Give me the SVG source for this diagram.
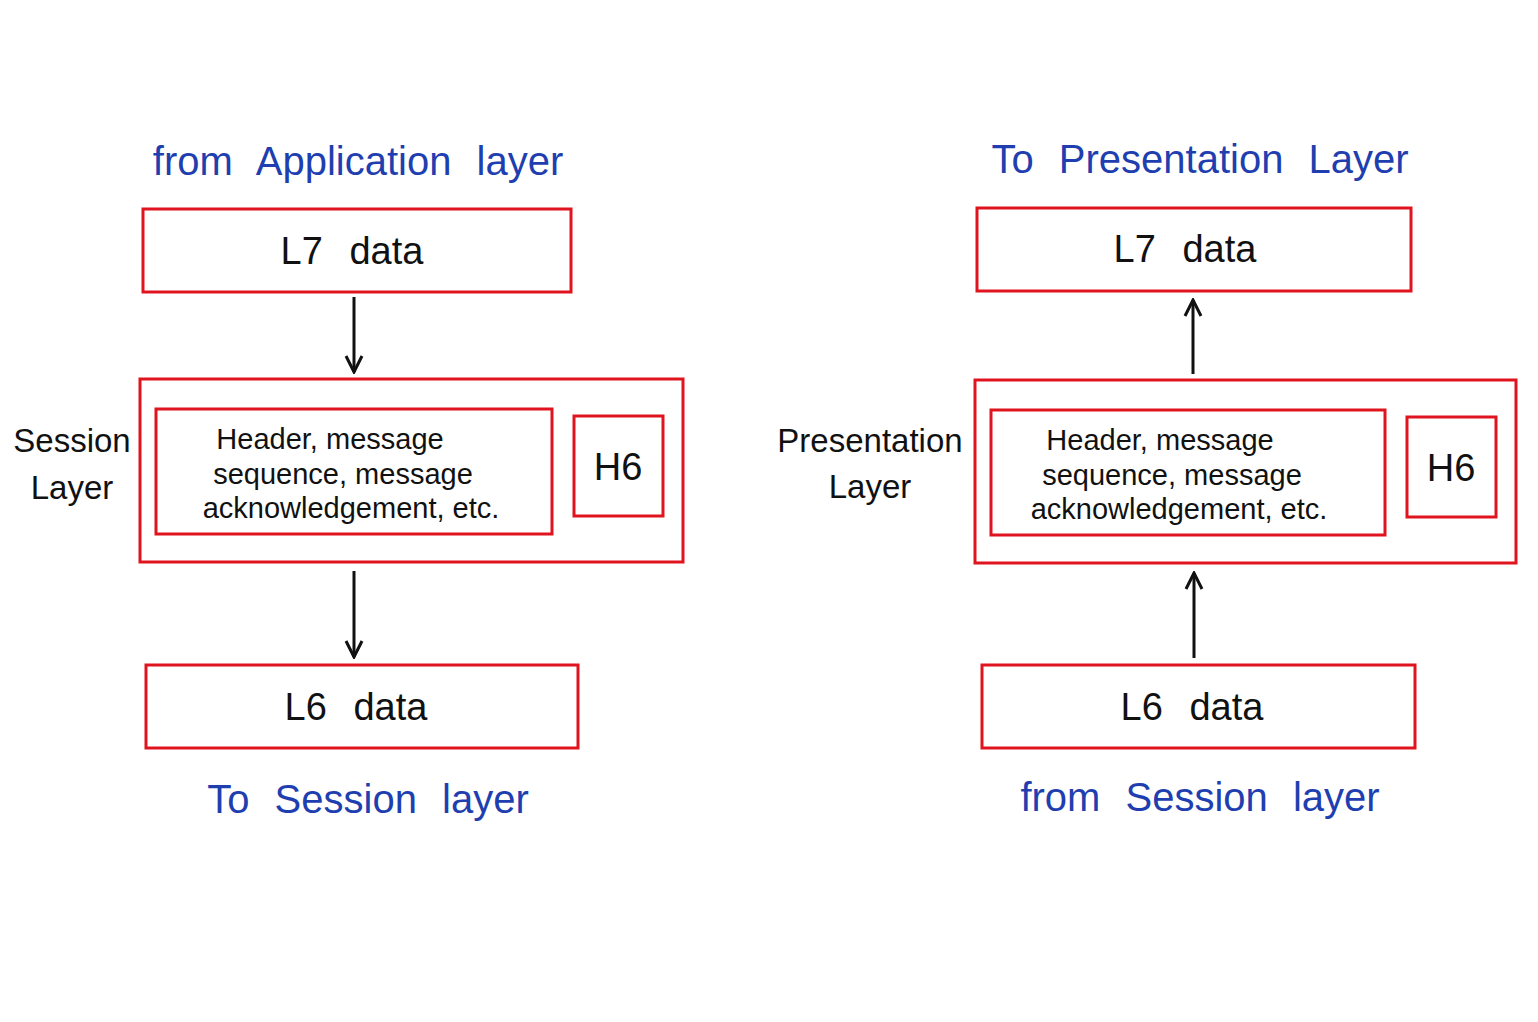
<svg xmlns="http://www.w3.org/2000/svg" width="1538" height="1022" viewBox="0 0 1538 1022">
<defs>
<style>
.box{fill:none;stroke:#e0141e;stroke-width:3}
.t{font-family:"Liberation Sans",sans-serif;fill:#111;text-anchor:middle}
.b{font-family:"Liberation Sans",sans-serif;fill:#1f3fb0;text-anchor:middle;font-size:40px;word-spacing:14px}
.big{font-size:38px;word-spacing:16px}
.sm{font-size:29px}
.lbl{font-size:33px}
.c{stroke:#111;stroke-width:3;fill:none}
</style>
<marker id="ah" viewBox="0 0 20 20" refX="18" refY="10" markerWidth="20" markerHeight="20" markerUnits="userSpaceOnUse" orient="auto"><path d="M2,2 L18,10 L2,18" fill="none" stroke="#111" stroke-width="3"/></marker>
</defs>
<rect width="1538" height="1022" fill="#fff"/>
<g id="left">
<text class="b" x="358" y="175">from Application layer</text>
<g id="l7a"><rect class="box" x="143" y="209" width="428" height="83"/><text class="t big" x="352" y="264">L7 data</text></g>
<g id="sessA"><rect class="box" x="140" y="379" width="543" height="183"/></g>
<g id="innerA"><rect class="box" x="156" y="409" width="396" height="125"/>
<text class="t sm" x="330" y="449">Header, message</text>
<text class="t sm" x="343" y="484">sequence, message</text>
<text class="t sm" x="351" y="518">acknowledgement, etc.</text></g>
<g id="h6a"><rect class="box" x="574" y="416" width="89" height="100"/><text class="t big" x="618" y="480">H6</text></g>
<g id="l6a"><rect class="box" x="146" y="665" width="432" height="83"/><text class="t big" x="356" y="720">L6 data</text></g>
<text class="b" x="368" y="813">To Session layer</text>
<text class="t lbl" x="72" y="452">Session</text>
<text class="t lbl" x="72" y="499">Layer</text>
</g>
<g id="right">
<text class="b" x="1200" y="173">To Presentation Layer</text>
<g id="l7b"><rect class="box" x="977" y="208" width="434" height="83"/><text class="t big" x="1185" y="262">L7 data</text></g>
<g id="presB"><rect class="box" x="975" y="380" width="541" height="183"/></g>
<g id="innerB"><rect class="box" x="991" y="410" width="394" height="125"/>
<text class="t sm" x="1160" y="450">Header, message</text>
<text class="t sm" x="1172" y="485">sequence, message</text>
<text class="t sm" x="1179" y="519">acknowledgement, etc.</text></g>
<g id="h6b"><rect class="box" x="1407" y="417" width="89" height="100"/><text class="t big" x="1451" y="481">H6</text></g>
<g id="l6b"><rect class="box" x="982" y="665" width="433" height="83"/><text class="t big" x="1192" y="720">L6 data</text></g>
<text class="b" x="1200" y="811">from Session layer</text>
<text class="t lbl" x="870" y="452">Presentation</text>
<text class="t lbl" x="870" y="498">Layer</text>
</g>
<g id="connectors">
<line class="c" x1="354" y1="297" x2="354" y2="372" marker-end="url(#ah)"/>
<line class="c" x1="354" y1="571" x2="354" y2="657" marker-end="url(#ah)"/>
<line class="c" x1="1193" y1="374" x2="1193" y2="300" marker-end="url(#ah)"/>
<line class="c" x1="1194" y1="658" x2="1194" y2="573" marker-end="url(#ah)"/>
</g>
</svg>
